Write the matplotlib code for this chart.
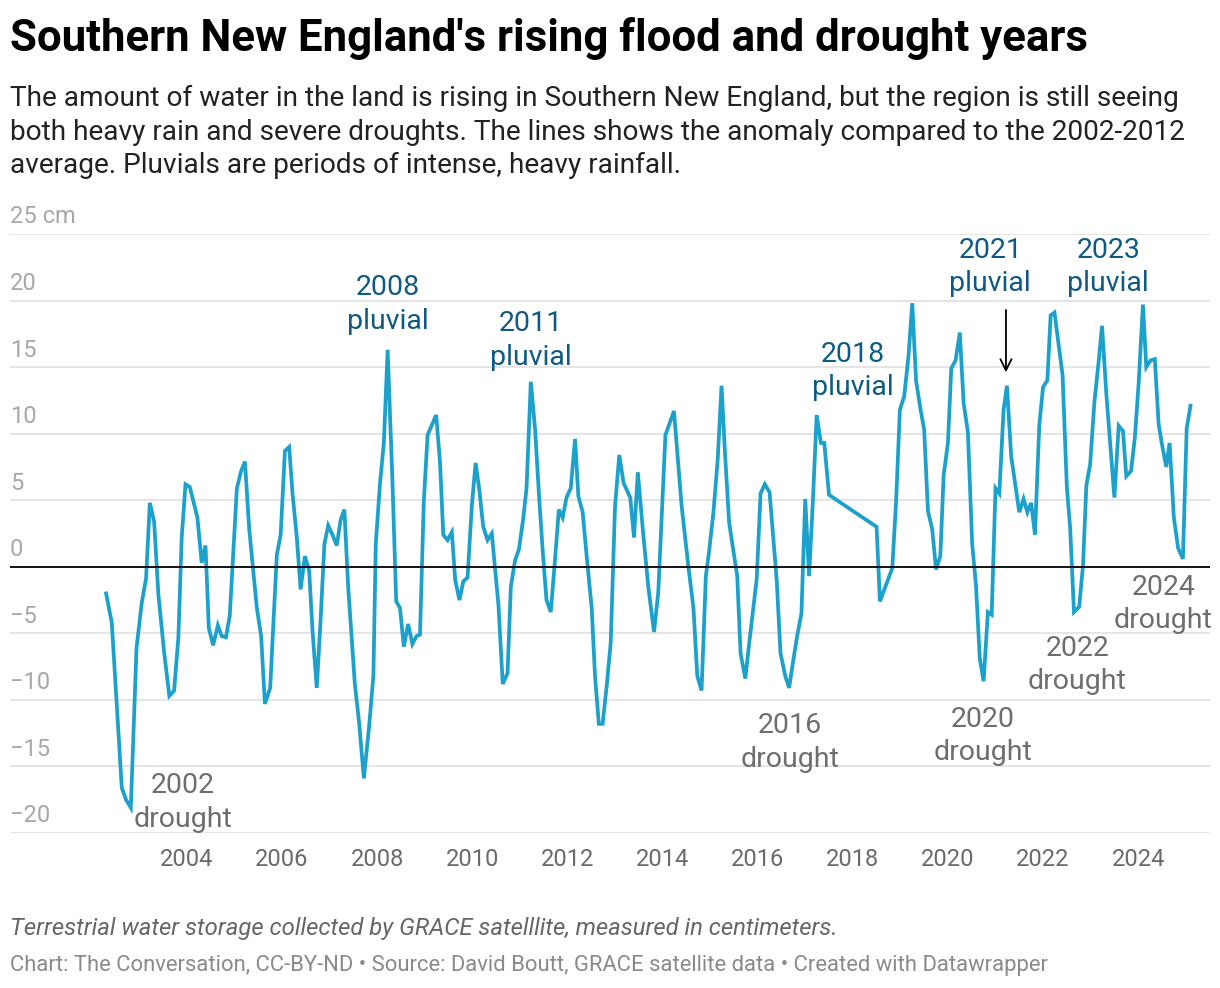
import matplotlib
matplotlib.use("Agg")
import matplotlib.pyplot as plt
import matplotlib.transforms as mtransforms

plt.rcParams['font.family'] = ['Roboto', 'DejaVu Sans']

# Terrestrial water storage anomaly (cm)
dates = [
    2002.30, 2002.42, 2002.63, 2002.72, 2002.82, 2002.94, 2003.05, 2003.14, 2003.22, 2003.31,
    2003.40, 2003.52, 2003.63, 2003.73, 2003.82, 2003.89, 2003.97, 2004.06, 2004.22, 2004.31,
    2004.39, 2004.46, 2004.55, 2004.65, 2004.73, 2004.82, 2004.90, 2005.05, 2005.14, 2005.22,
    2005.31, 2005.47, 2005.56, 2005.64, 2005.75, 2005.89, 2005.97, 2006.06, 2006.15, 2006.22,
    2006.31, 2006.39, 2006.48, 2006.57, 2006.64, 2006.73, 2006.81, 2006.89, 2006.97, 2007.06,
    2007.15, 2007.23, 2007.31, 2007.39, 2007.53, 2007.62, 2007.72, 2007.83, 2007.92, 2007.97,
    2008.06, 2008.14, 2008.22, 2008.32, 2008.40, 2008.48, 2008.56, 2008.65, 2008.74, 2008.83,
    2008.90, 2008.98, 2009.06, 2009.24, 2009.32, 2009.39, 2009.48, 2009.57, 2009.64, 2009.73,
    2009.81, 2009.90, 2009.99, 2010.07, 2010.15, 2010.23, 2010.32, 2010.41, 2010.55, 2010.64,
    2010.74, 2010.81, 2010.90, 2010.98, 2011.07, 2011.14, 2011.23, 2011.32, 2011.40, 2011.48,
    2011.56, 2011.65, 2011.74, 2011.82, 2011.90, 2011.98, 2012.07, 2012.16, 2012.23, 2012.32,
    2012.41, 2012.51, 2012.58, 2012.66, 2012.74, 2012.83, 2012.91, 2013.00, 2013.09, 2013.18,
    2013.32, 2013.40, 2013.48, 2013.59, 2013.70, 2013.82, 2013.91, 2014.06, 2014.24, 2014.40,
    2014.54, 2014.65, 2014.73, 2014.82, 2014.91, 2014.98, 2015.07, 2015.16, 2015.24, 2015.31,
    2015.40, 2015.57, 2015.64, 2015.74, 2015.82, 2015.98, 2016.06, 2016.15, 2016.25, 2016.40,
    2016.48, 2016.58, 2016.66, 2016.75, 2016.83, 2016.92, 2017.00, 2017.08, 2017.16, 2017.24,
    2017.33, 2017.40, 2017.50, 2018.50, 2018.57, 2018.83, 2018.91, 2018.99, 2019.08, 2019.17,
    2019.25, 2019.33, 2019.42, 2019.50, 2019.58, 2019.67, 2019.75, 2019.84, 2019.91, 2020.00,
    2020.07, 2020.16, 2020.25, 2020.33, 2020.42, 2020.51, 2020.59, 2020.67, 2020.75, 2020.84,
    2020.92, 2021.00, 2021.08, 2021.17, 2021.24, 2021.33, 2021.42, 2021.50, 2021.59, 2021.67,
    2021.75, 2021.83, 2021.92, 2022.00, 2022.09, 2022.16, 2022.24, 2022.41, 2022.50, 2022.57,
    2022.65, 2022.76, 2022.84, 2022.91, 2022.99, 2023.08, 2023.16, 2023.24, 2023.33, 2023.41,
    2023.50, 2023.59, 2023.68, 2023.75, 2023.85, 2023.93, 2024.01, 2024.10, 2024.17, 2024.26,
    2024.35, 2024.43, 2024.50, 2024.59, 2024.66, 2024.75, 2024.84, 2024.94, 2025.02, 2025.10,
]
anomaly_cm = [
    -2.0, -4.2, -16.6, -17.5, -18.1, -6.1, -2.7, -0.9, 4.8, 3.4,
    -2.1, -6.4, -9.7, -9.3, -5.3, 2.2, 6.2, 6.0, 3.7, 0.3,
    1.6, -4.6, -5.9, -4.4, -5.2, -5.3, -3.7, 5.9, 7.2, 7.9,
    2.8, -3.1, -5.2, -10.3, -9.1, 0.9, 2.4, 8.7, 9.0, 5.5,
    2.2, -1.7, 0.8, -0.3, -4.8, -9.1, -4.0, 1.7, 3.1, 2.4,
    1.6, 3.5, 4.3, -1.5, -8.8, -11.7, -15.9, -12.0, -8.2, 1.7,
    6.3, 9.3, 16.3, 6.5, -2.6, -3.1, -6.0, -4.3, -5.8, -5.2,
    -5.1, 4.9, 9.9, 11.4, 7.9, 2.4, 2.0, 2.6, -1.0, -2.5,
    -1.1, -0.8, 4.6, 7.8, 5.7, 3.0, 2.0, 2.5, -2.9, -8.8,
    -8.0, -1.5, 0.5, 1.3, 3.6, 5.9, 13.9, 10.3, 5.5, 1.2,
    -2.5, -3.4, 0.6, 4.3, 3.7, 5.2, 5.9, 9.6, 5.3, 4.1,
    0.6, -3.1, -8.2, -11.8, -11.8, -8.8, -5.7, 4.5, 8.4, 6.3,
    5.2, 2.2, 7.1, 2.6, -1.5, -4.9, -1.9, 9.9, 11.7, 4.6,
    0.1, -3.1, -8.2, -9.3, -0.7, 1.2, 4.1, 8.1, 13.6, 8.7,
    3.3, -0.7, -6.5, -8.4, -5.8, -0.9, 5.5, 6.2, 5.6, -1.0,
    -6.5, -8.2, -9.1, -7.0, -5.2, -3.5, 5.1, -0.7, 4.9, 11.4,
    9.3, 9.3, 5.4, 3.0, -2.6, -0.1, 4.9, 11.8, 12.8, 15.8,
    19.8, 14.0, 11.9, 10.3, 4.2, 2.8, -0.2, 0.8, 6.9, 9.3,
    14.9, 15.5, 17.6, 12.3, 10.1, 1.7, -1.4, -6.9, -8.6, -3.4,
    -3.6, 5.9, 5.5, 11.8, 13.6, 8.3, 6.1, 4.1, 5.1, 4.1,
    4.8, 2.4, 10.6, 13.5, 14.0, 18.9, 19.1, 14.4, 6.0, 2.9,
    -3.4, -3.0, 0.1, 6.1, 7.7, 12.4, 15.1, 18.1, 13.0, 9.3,
    5.2, 10.6, 10.2, 6.8, 7.2, 9.7, 13.8, 19.7, 15.0, 15.5,
    15.6, 10.7, 9.2, 7.5, 9.3, 3.7, 1.4, 0.6, 10.4, 12.1,
]

y_ticks = [25, 20, 15, 10, 5, 0, -5, -10, -15, -20]
y_tick_labels = ["25 cm", "20", "15", "10", "5", "0", "\u22125", "\u221210", "\u221215", "\u221220"]
x_ticks = [2004, 2006, 2008, 2010, 2012, 2014, 2016, 2018, 2020, 2022, 2024]

# (label, x, y) for the annotations
pluvial_notes = [
    ("2008\npluvial", 2008.23, 19.7),
    ("2011\npluvial", 2011.23, 17.0),
    ("2018\npluvial", 2018.01, 14.7),
    ("2021\npluvial", 2020.89, 22.5),
    ("2023\npluvial", 2023.37, 22.5),
]
drought_notes = [
    ("2002\ndrought", 2003.92, -17.7),
    ("2016\ndrought", 2016.68, -13.2),
    ("2020\ndrought", 2020.74, -12.7),
    ("2022\ndrought", 2022.72, -7.4),
    ("2024\ndrought", 2024.53, -2.8),
]

LINE_COLOR = "#1ba1cc"
PLUVIAL_COLOR = "#0e5a82"
DROUGHT_COLOR = "#6e6e6e"

fig = plt.figure(figsize=(12.2, 9.88), dpi=100)
ax = fig.add_axes([10 / 1220, 1 - 833 / 988, 1200 / 1220, (833 - 234) / 988])

ax.set_xlim(2000.28, 2025.51)
ax.set_ylim(-20, 25)

for s in ax.spines.values():
    s.set_visible(False)

for yt in y_ticks:
    if yt != 0:
        ax.axhline(yt, color="#e3e3e3", lw=1.3, zorder=0)
ax.axhline(0, color="black", lw=1.3, zorder=3)

ax.plot(dates, anomaly_cm, color=LINE_COLOR, lw=2.7, solid_joinstyle="miter", zorder=2)

ax.set_yticks([])
ax.set_xticks(x_ticks)
ax.set_xticklabels([str(x) for x in x_ticks], fontsize=17, color="#6a6a6a")
ax.tick_params(axis="x", length=0, pad=11)

# y labels sit above their gridlines
trans = mtransforms.blended_transform_factory(ax.transAxes, ax.transData)
offset = mtransforms.ScaledTranslation(0, 4 / 72, fig.dpi_scale_trans)
for yt, lab in zip(y_ticks, y_tick_labels):
    ax.text(0, yt, lab, transform=trans + offset, ha="left", va="bottom",
            fontsize=17, color="#a8a8a8")

for lab, x, y in pluvial_notes:
    ax.text(x, y, lab, ha="center", va="center", fontsize=20.5, color=PLUVIAL_COLOR,
            linespacing=1.3, zorder=4)
for lab, x, y in drought_notes:
    ax.text(x, y, lab, ha="center", va="center", fontsize=20.5, color=DROUGHT_COLOR,
            linespacing=1.3, zorder=4)

ax.annotate("", xy=(2021.22, 14.4), xytext=(2021.22, 19.5),
            arrowprops=dict(arrowstyle="->", color="black", lw=1.3, mutation_scale=20))

fig.text(10 / 1220, 1 - 17 / 988, "Southern New England's rising flood and drought years",
         ha="left", va="top", fontsize=31.5, fontweight="bold", color="black")
fig.text(10 / 1220, 1 - 85 / 988,
         "The amount of water in the land is rising in Southern New England, but the region is still seeing\n"
         "both heavy rain and severe droughts. The lines shows the anomaly compared to the 2002-2012\n"
         "average. Pluvials are periods of intense, heavy rainfall.",
         ha="left", va="top", fontsize=20.2, color="#222222", linespacing=1.31)

fig.text(10 / 1220, 1 - 928 / 988,
         "Terrestrial water storage collected by GRACE satelllite, measured in centimeters.",
         ha="left", va="center", fontsize=17.2, style="italic", color="#666666")
fig.text(10 / 1220, 1 - 965 / 988,
         "Chart: The Conversation, CC-BY-ND \u2022 Source: David Boutt, GRACE satellite data \u2022 Created with Datawrapper",
         ha="left", va="center", fontsize=15.8, color="#8a8a8a")

fig.savefig("out.png", dpi=100)
